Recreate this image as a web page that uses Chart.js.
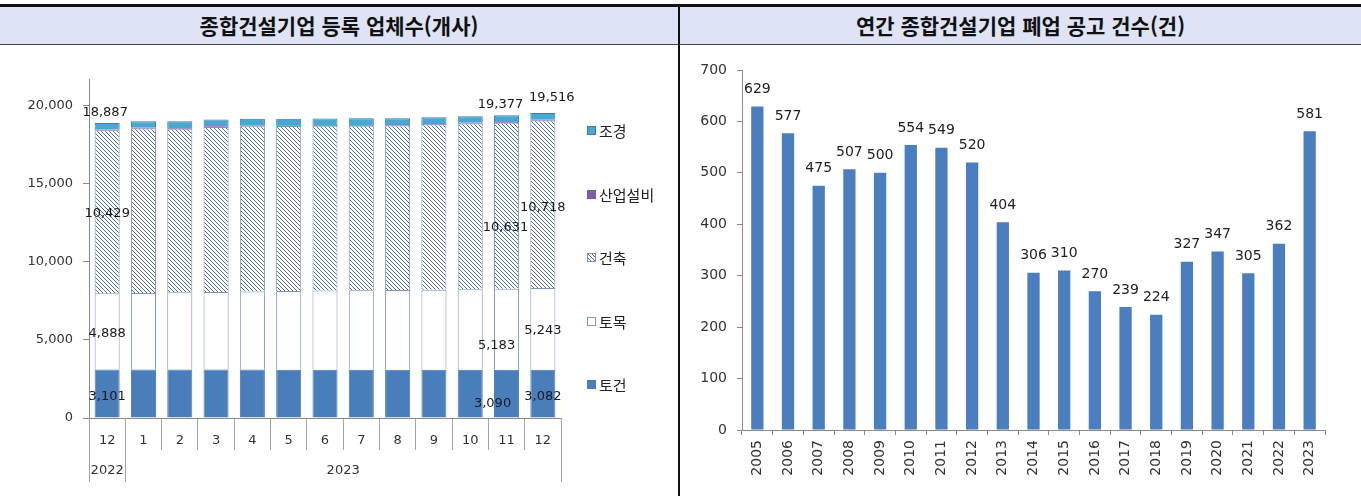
<!DOCTYPE html>
<html lang="ko">
<head>
    <meta charset="UTF-8">
    <title>종합건설기업 등록 업체수 / 폐업 공고 건수</title>
    <style>
        body {
            margin: 0;
            background: #fff;
            font-family: "Noto Sans CJK KR", sans-serif;
        }
        #page {
            position: relative;
            width: 1361px;
            height: 496px;
            overflow: hidden;
        }
        .header {
            position: absolute;
            left: 0;
            top: 4px;
            width: 1361px;
            height: 37px;
            background: #dee4f5;
            border-top: 3px solid #111;
            border-bottom: 1px solid #444;
        }
        .title {
            position: absolute;
            top: 7px;
            height: 37px;
            line-height: 37px;
            text-align: center;
            font-weight: bold;
            font-size: 21px;
            color: #111;
        }
        .divider {
            position: absolute;
            left: 678px;
            top: 4px;
            width: 2px;
            height: 492px;
            background: #111;
        }
        .box {
            position: absolute;
            top: 50px;
            height: 446px;
        }
    </style>
    <script src="https://cdn.jsdelivr.net/npm/chart.js"></script>
</head>
<body>
<div id="page">
    <div class="header"></div>
    <div class="title" style="left:0; width:678px;">종합건설기업 등록 업체수(개사)</div>
    <div class="title" style="left:680px; width:681px;">연간 종합건설기업 폐업 공고 건수(건)</div>
    <div class="divider"></div>
    <div class="box" style="left:0; width:678px;"><canvas id="chartA"></canvas></div>
    <div class="box" style="left:680px; width:681px;"><canvas id="chartB"></canvas></div>
</div>

<script>
    // left chart: registered firms by month
    const months = ['12', '1', '2', '3', '4', '5', '6', '7', '8', '9', '10', '11', '12'];
    const yearLabels = ['2022', '2023'];
    const yearSpans = [1, 12];
    const togun = [3101, 3100, 3099, 3098, 3097, 3096, 3095, 3094, 3093, 3092, 3091, 3090, 3082];
    const tomok = [4888, 4905, 4950, 4975, 5000, 5040, 5070, 5085, 5100, 5120, 5150, 5183, 5243];
    const geonchuk = [10429, 10525, 10471, 10557, 10583, 10554, 10535, 10531, 10527, 10568, 10609, 10631, 10718];
    const sanup = [42, 42, 42, 42, 42, 42, 42, 42, 43, 43, 43, 43, 44];
    const jogyeong = [427, 428, 428, 428, 428, 428, 428, 428, 427, 427, 427, 430, 429];
    const labeledMonths = [0, 11, 12];
    const leftTicks = [0, 5000, 10000, 15000, 20000];

    // right chart: closures per year
    const years = ['2005', '2006', '2007', '2008', '2009', '2010', '2011', '2012', '2013', '2014',
                   '2015', '2016', '2017', '2018', '2019', '2020', '2021', '2022', '2023'];
    const closures = [629, 577, 475, 507, 500, 554, 549, 520, 404, 306, 310, 270, 239, 224, 327, 347, 305, 362, 581];

    const numFont = '"DejaVu Sans", sans-serif';
    const axisGray = '#8a8a8a';

    function hatch() {
        const c = document.createElement('canvas');
        c.width = 4; c.height = 4;
        const g = c.getContext('2d');
        g.fillStyle = '#ffffff';
        g.fillRect(0, 0, 4, 4);
        g.strokeStyle = '#4a69a6';
        g.lineWidth = 1;
        g.beginPath();
        g.moveTo(0, 0); g.lineTo(4, 4);
        g.moveTo(-1, 3); g.lineTo(1, 5);
        g.moveTo(3, -1); g.lineTo(5, 1);
        g.stroke();
        return g.createPattern(c, 'repeat');
    }

    const fmt = v => Number(v).toLocaleString('en-US');

    // hand-placed label nudges as in the original (month index -> [dx, dy] per segment, last = total)
    const nudges = {
        0: [[0, 3], [0, 2], [0, 2], [-2, -10]],
        11: [[-14, 10], [-10, 16], [-1, 22], [-6, -11]],
        12: [[0, 3], [0, 2], [0, 3], [9, -15]]
    };

    const yearRow = {
        id: 'yearRow',
        afterDraw(chart) {
            const x = chart.scales.x, ctx = chart.ctx;
            const axisY = chart.chartArea.bottom;
            const half = (x.getPixelForValue(1) - x.getPixelForValue(0)) / 2;
            const edges = [x.getPixelForValue(0) - half];
            ctx.save();
            ctx.font = '13px ' + numFont;
            ctx.fillStyle = '#333';
            ctx.textAlign = 'center';
            ctx.textBaseline = 'middle';
            let start = 0;
            yearSpans.forEach((span, k) => {
                const l = x.getPixelForValue(start) - half;
                const r = x.getPixelForValue(start + span - 1) + half;
                ctx.fillText(yearLabels[k], (l + r) / 2, axisY + 53);
                edges.push(r);
                start += span;
            });
            ctx.strokeStyle = '#a6a6a6';
            ctx.lineWidth = 1;
            edges.forEach(e => {
                const px = Math.round(e) + 0.5;
                ctx.beginPath();
                ctx.moveTo(px, axisY);
                ctx.lineTo(px, axisY + 64);
                ctx.stroke();
            });
            ctx.restore();
        }
    };

    const stackLabels = {
        id: 'stackLabels',
        afterDatasetsDraw(chart) {
            const ctx = chart.ctx;
            const ds = chart.data.datasets;
            ctx.save();
            ctx.font = '13px ' + numFont;
            ctx.fillStyle = '#1a1a1a';
            ctx.textAlign = 'center';
            ctx.textBaseline = 'middle';
            labeledMonths.forEach(i => {
                const n = nudges[i];
                for (let k = 0; k < 3; k++) {
                    const bar = chart.getDatasetMeta(k).data[i];
                    ctx.fillText(fmt(ds[k].data[i]), bar.x + n[k][0], (bar.y + bar.base) / 2 + n[k][1]);
                }
                let total = 0;
                ds.forEach(d => { total += d.data[i]; });
                const top = chart.getDatasetMeta(ds.length - 1).data[i];
                ctx.fillText(fmt(total), top.x + n[3][0], top.y + n[3][1]);
            });
            ctx.restore();
        }
    };

    const sideLegend = {
        id: 'sideLegend',
        afterDraw(chart) {
            const {ctx, chartArea} = chart;
            const ds = chart.data.datasets;
            ctx.save();
            ctx.font = '15px "Noto Sans CJK KR", sans-serif';
            ctx.textAlign = 'left';
            ctx.textBaseline = 'middle';
            for (let k = ds.length - 1, row = 0; k >= 0; k--, row++) {
                const y = Math.round(chartArea.top + 51 + row * 63.5);
                const x = Math.round(chartArea.right + 26);
                ctx.fillStyle = ds[k].backgroundColor;
                ctx.fillRect(x, y - 4, 9, 9);
                ctx.strokeStyle = ds[k].borderColor;
                ctx.lineWidth = 1;
                ctx.strokeRect(x + 0.5, y - 3.5, 8, 8);
                ctx.fillStyle = '#222';
                ctx.fillText(ds[k].label, x + 12, y + 1);
            }
            ctx.restore();
        }
    };

    const topLabels = {
        id: 'topLabels',
        afterDatasetsDraw(chart) {
            const ctx = chart.ctx;
            const meta = chart.getDatasetMeta(0);
            ctx.save();
            ctx.font = '14px ' + numFont;
            ctx.fillStyle = '#222';
            ctx.textAlign = 'center';
            ctx.textBaseline = 'middle';
            meta.data.forEach((bar, i) => {
                ctx.fillText(fmt(closures[i]), bar.x, bar.y - 17);
            });
            ctx.restore();
        }
    };

    const edge = '#7d96c4';

    new Chart(document.getElementById('chartA'), {
        type: 'bar',
        data: {
            labels: months,
            datasets: [
                { label: '토건', data: togun, backgroundColor: '#4a7ebb', borderColor: '#4a7ebb', borderWidth: 1 },
                { label: '토목', data: tomok, backgroundColor: '#ffffff', borderColor: edge, borderWidth: 1 },
                { label: '건축', data: geonchuk, backgroundColor: hatch(), borderColor: edge, borderWidth: 1 },
                { label: '산업설비', data: sanup, backgroundColor: '#7b5ea7', borderColor: '#7b5ea7', borderWidth: 0 },
                { label: '조경', data: jogyeong, backgroundColor: '#4aa7d2', borderColor: '#3f78b4', borderWidth: 1 }
            ]
        },
        options: {
            responsive: true,
            maintainAspectRatio: false,
            animation: false,
            layout: { padding: { left: 0, right: 117, top: 29, bottom: 0 } },
            datasets: { bar: { barPercentage: 0.69, categoryPercentage: 1 } },
            plugins: { legend: { display: false }, tooltip: { enabled: false } },
            scales: {
                x: {
                    stacked: true,
                    grid: { offset: true, drawOnChartArea: false, tickLength: 32, color: '#a6a6a6' },
                    border: { color: axisGray },
                    ticks: { font: { family: numFont, size: 13 }, color: '#333', padding: -17, maxRotation: 0 },
                    afterFit(s) { s.height = 78; }
                },
                y: {
                    stacked: true,
                    min: 0,
                    max: 21700,
                    grid: { drawOnChartArea: false, tickLength: 6, color: axisGray },
                    border: { color: axisGray },
                    afterBuildTicks(s) { s.ticks = leftTicks.map(v => ({ value: v })); },
                    ticks: { font: { family: numFont, size: 13 }, color: '#333', padding: 10, callback: v => fmt(v) },
                    afterFit(s) { s.width = 89; }
                }
            }
        },
        plugins: [yearRow, stackLabels, sideLegend]
    });

    new Chart(document.getElementById('chartB'), {
        type: 'bar',
        data: {
            labels: years,
            datasets: [
                { label: '폐업 공고 건수', data: closures, backgroundColor: '#4a7ebf' }
            ]
        },
        options: {
            responsive: true,
            maintainAspectRatio: false,
            animation: false,
            layout: { padding: { left: 0, right: 36, top: 20, bottom: 0 } },
            datasets: { bar: { barPercentage: 0.4, categoryPercentage: 1 } },
            plugins: { legend: { display: false }, tooltip: { enabled: false } },
            scales: {
                x: {
                    grid: { offset: true, drawOnChartArea: false, tickLength: 5, color: axisGray },
                    border: { color: axisGray },
                    ticks: { font: { family: numFont, size: 14 }, color: '#333', padding: 5, minRotation: 90, maxRotation: 90 },
                    afterFit(s) { s.height = 66; }
                },
                y: {
                    min: 0,
                    max: 700,
                    grid: { drawOnChartArea: false, tickLength: 5, color: axisGray },
                    border: { color: axisGray },
                    ticks: { stepSize: 100, font: { family: numFont, size: 14 }, color: '#333', padding: 10 },
                    afterFit(s) { s.width = 62; }
                }
            }
        },
        plugins: [topLabels]
    });
</script>
</body>
</html>
